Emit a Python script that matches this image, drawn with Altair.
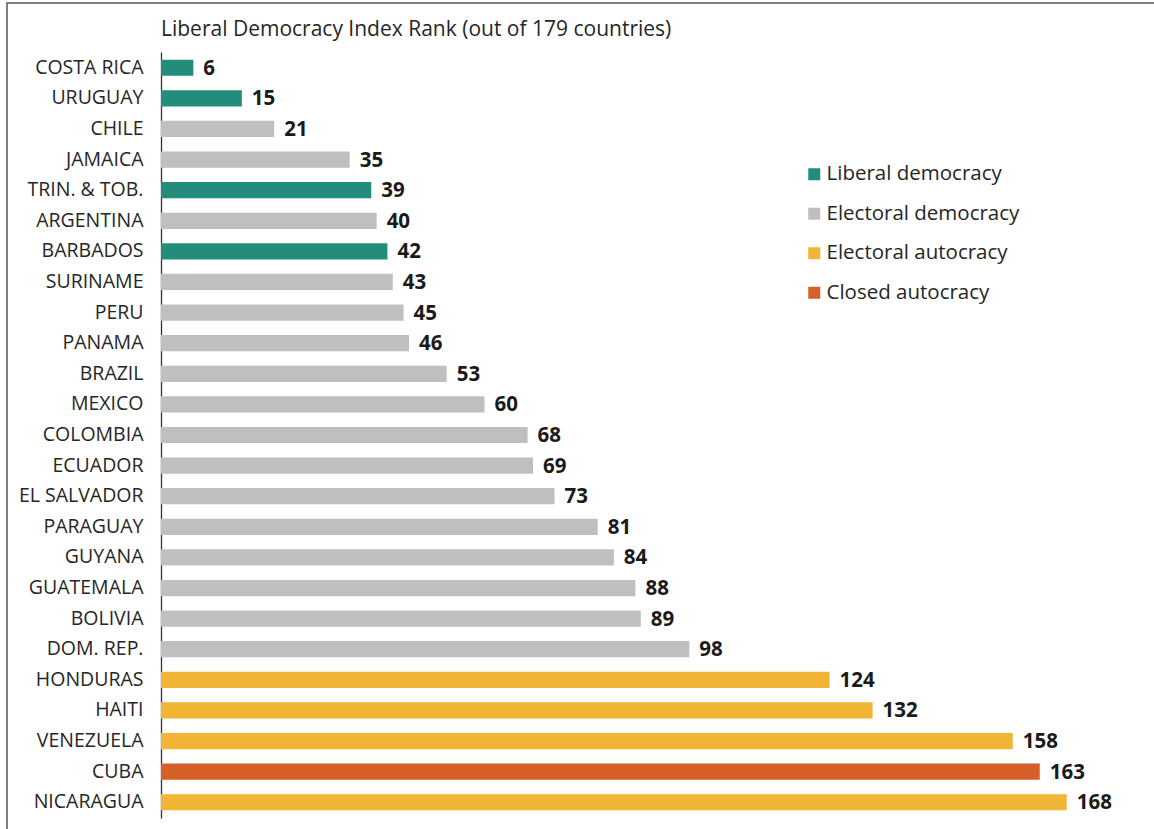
import altair as alt
import pandas as pd

countries = ["COSTA RICA", "URUGUAY", "CHILE", "JAMAICA", "TRIN. & TOB.", "ARGENTINA",
             "BARBADOS", "SURINAME", "PERU", "PANAMA", "BRAZIL", "MEXICO", "COLOMBIA",
             "ECUADOR", "EL SALVADOR", "PARAGUAY", "GUYANA", "GUATEMALA", "BOLIVIA",
             "DOM. REP.", "HONDURAS", "HAITI", "VENEZUELA", "CUBA", "NICARAGUA"]
ranks = [6, 15, 21, 35, 39, 40, 42, 43, 45, 46, 53, 60, 68, 69, 73, 81, 84, 88, 89, 98,
         124, 132, 158, 163, 168]
LD, ED, EA, CA = "Liberal democracy", "Electoral democracy", "Electoral autocracy", "Closed autocracy"
regimes = [LD, LD, ED, ED, LD, ED, LD, ED, ED, ED, ED, ED, ED, ED, ED, ED, ED, ED, ED, ED,
           EA, EA, EA, CA, EA]
regime_order = [LD, ED, EA, CA]
regime_colors = ["#238C7B", "#BFBFBF", "#F2B435", "#D66027"]
title_text = ["Liberal Democracy Index Rank (out of 179 countries)"]

df = pd.DataFrame({"country": countries, "rank": ranks, "regime": regimes})

FONT = "Open Sans"
L, T = 161, 52
W, H = 965, 766

y_enc = alt.Y("country:N", sort=countries,
              scale=alt.Scale(paddingInner=0.47, paddingOuter=0.25),
              axis=alt.Axis(title=None, ticks=False, domain=True, domainColor="#333333",
                            domainWidth=1.3, labelFont=FONT, labelFontSize=19.5,
                            labelColor="#262626", labelPadding=18, grid=False))
x_enc = alt.X("rank:Q", scale=alt.Scale(domain=[0, 179], nice=False), axis=None)

bars = alt.Chart(df).mark_bar().encode(
    y=y_enc, x=x_enc,
    color=alt.Color("regime:N", sort=regime_order,
                    scale=alt.Scale(domain=regime_order, range=regime_colors),
                    legend=alt.Legend(title=None, orient="none", legendX=643, legendY=112,
                                      symbolType="square", symbolSize=144,
                                      symbolStrokeWidth=0, labelFont=FONT,
                                      labelFontSize=20.5, labelColor="#262626",
                                      labelLimit=0, rowPadding=18.5, labelOffset=2)),
)

labels = alt.Chart(df).mark_text(align="left", baseline="middle", dx=10, dy=1,
                                 font=FONT, fontSize=20.5, fontWeight="bold",
                                 color="#1a1a1a").encode(
    y=alt.Y("country:N", sort=countries), x="rank:Q", text="rank:Q")

title = alt.Chart(pd.DataFrame({"t": title_text})).mark_text(
    align="left", baseline="middle", font=FONT, fontSize=21, color="#262626").encode(
    x=alt.value(0), y=alt.value(30 - T), text="t:N")

border = alt.Chart(pd.DataFrame({"b": [0]})).mark_rect(
    fill=None, stroke="#555555", strokeWidth=1.5).encode(
    x=alt.value(7 - L), x2=alt.value(1170 - L),
    y=alt.value(3 - T), y2=alt.value(845 - T))

chart = alt.layer(border, bars, labels, title).properties(
    width=W, height=H,
    background="white",
    autosize=alt.AutoSizeParams(type="none"),
    padding={"left": L, "top": T, "right": 1154 - L - W, "bottom": 829 - T - H},
).configure_view(strokeWidth=0, stroke="transparent")

chart.save("out.html", embed_options={"renderer": "svg", "actions": False})
